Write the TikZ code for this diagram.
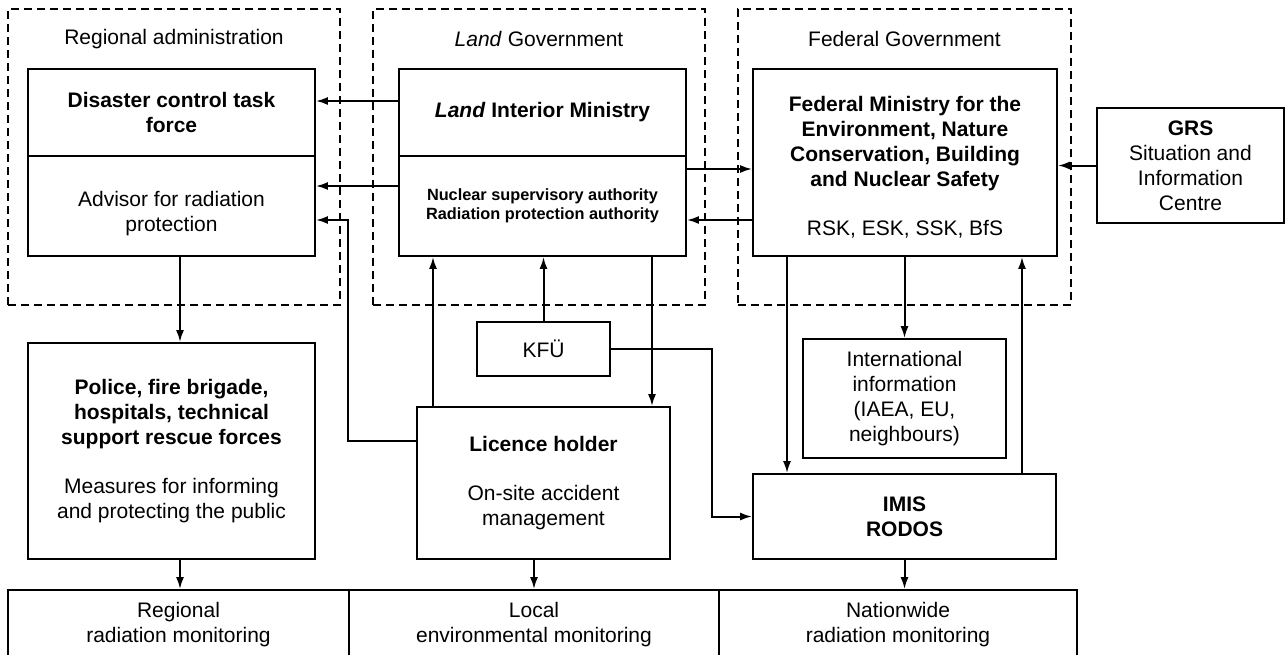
\documentclass[tikz,border=0pt]{standalone}
\usepackage{fontspec}
\setmainfont{Liberation Sans}
\usetikzlibrary{arrows.meta,positioning}
\tikzstyle{line} = [draw, line width=2pt, -{Latex[length=12pt,width=8pt]}]
\tikzstyle{box} = [draw, line width=1.8pt, align=center, inner sep=0pt, font=\fontsize{21}{25}\selectfont]
\tikzstyle{bold} = [font=\fontsize{21}{25}\selectfont\bfseries]
\tikzstyle{small} = [font=\fontsize{16.3}{19}\selectfont\bfseries]
\tikzstyle{area} = [draw, line width=1.3pt, dash pattern=on 8pt off 5pt, inner sep=0pt]
\tikzstyle{title} = [font=\fontsize{21}{25}\selectfont]

\begin{document}
\begin{tikzpicture}[x=1pt,y=-1pt]
		\useasboundingbox (0,0) rectangle (1285,654);
		\clip (0,0) rectangle (1285,654);
		% dashed areas
		\node[area, minimum width=332, minimum height=296] (regarea) at (174,157) {};
		\node[area, minimum width=332, minimum height=296] (landarea) at (539,157) {};
		\node[area, minimum width=333, minimum height=296] (fedarea) at (904.5,157) {};
		\node[title] (regtitle) at (174,39) {Regional administration};
		\node[title] (landtitle) at (539,39) {\textit{Land} Government};
		\node[title] (fedtitle) at (904.5,39) {Federal Government};
		% upper boxes
		\node[box, bold, minimum width=287, minimum height=87] (dctf) at (171.5,112.5) {Disaster control task\\force};
		\node[box, minimum width=287, minimum height=100] (adv) at (171.5,206) {\rule{0pt}{30pt}Advisor for radiation\\protection};
		\node[box, bold, minimum width=287, minimum height=87] (lim) at (542.5,112.5) {\textit{Land} Interior Ministry};
		\node[box, small, minimum width=287, minimum height=100] (nsa) at (542.5,206) {Nuclear supervisory authority\\Radiation protection authority};
		\node[box, minimum width=304, minimum height=187] (bmu) at (905,162.5) {\rule{0pt}{25pt}\textbf{Federal Ministry for the}\\\textbf{Environment, Nature}\\\textbf{Conservation, Building}\\\textbf{and Nuclear Safety}\\[24pt]RSK, ESK, SSK, BfS};
		\node[box, minimum width=187, minimum height=115] (grs) at (1190.5,165.5) {\textbf{GRS}\\Situation and\\Information\\Centre};
		% lower boxes
		\node[box, minimum width=287, minimum height=216] (police) at (171.5,451) {\textbf{Police, fire brigade,}\\\textbf{hospitals, technical}\\\textbf{support rescue forces}\\[24pt]Measures for informing\\and protecting the public};
		\node[box, minimum width=133, minimum height=54] (kfu) at (543.5,349) {KFÜ};
		\node[box, minimum width=253, minimum height=152] (lic) at (543.5,483) {\textbf{Licence holder}\\[24pt]On-site accident\\management};
		\node[box, minimum width=203, minimum height=119] (intl) at (904.5,398.5) {International\\information\\(IAEA, EU,\\neighbours)};
		\node[box, bold, minimum width=303, minimum height=85] (imis) at (904.5,516.5) {IMIS\\RODOS};
		% monitoring row
		\node[box, minimum width=341, minimum height=70] (regmon) at (178.5,625) {Regional\\radiation monitoring};
		\node[box, minimum width=370, minimum height=70] (locmon) at (534,625) {Local\\environmental monitoring};
		\node[box, minimum width=358, minimum height=70] (natmon) at (898,625) {Nationwide\\radiation monitoring};
		% connectors
		\draw[line] ([yshift=11.5pt]lim.west) -- ([yshift=11.5pt]dctf.east);
		\draw[line] ([yshift=20pt]nsa.west) -- ([yshift=20pt]adv.east);
		\draw[line] ([yshift=42pt]lic.west) -- ++(-68,0) |- ([yshift=-14pt]adv.east);
		\draw[line] ([yshift=37pt]nsa.east) -- ([yshift=-6.5pt]bmu.west);
		\draw[line] ([yshift=-57.5pt]bmu.west) -- ([yshift=-14pt]nsa.east);
		\draw[line] (grs.west) -- (grs.west -| bmu.east);
		\draw[line] ([xshift=8.5pt]adv.south) -- ([xshift=8.5pt]police.north);
		\draw[line] ([xshift=8.5pt]police.south) -- ([xshift=1.5pt]regmon.north);
		\draw[line] ([xshift=-110.5pt]lic.north) -- ([xshift=-109.5pt]nsa.south);
		\draw[line] (kfu.north) -- (kfu.north |- nsa.south);
		\draw[line] ([xshift=109.5pt]nsa.south) -- ([xshift=108.5pt]lic.north);
		\draw[line] (kfu.east) -- ++(101,0) |- (imis.west);
		\draw[line] ([xshift=-118pt]bmu.south) -- ([xshift=-117.5pt]imis.north);
		\draw[line] (intl.north |- bmu.south) -- (intl.north);
		\draw[line] ([xshift=117.5pt]imis.north) -- ([xshift=117pt]bmu.south);
		\draw[line] (imis.south) -- (imis.south |- natmon.north);
		\draw[line] (locmon.north |- lic.south) -- (locmon.north);
\end{tikzpicture}
\end{document}
